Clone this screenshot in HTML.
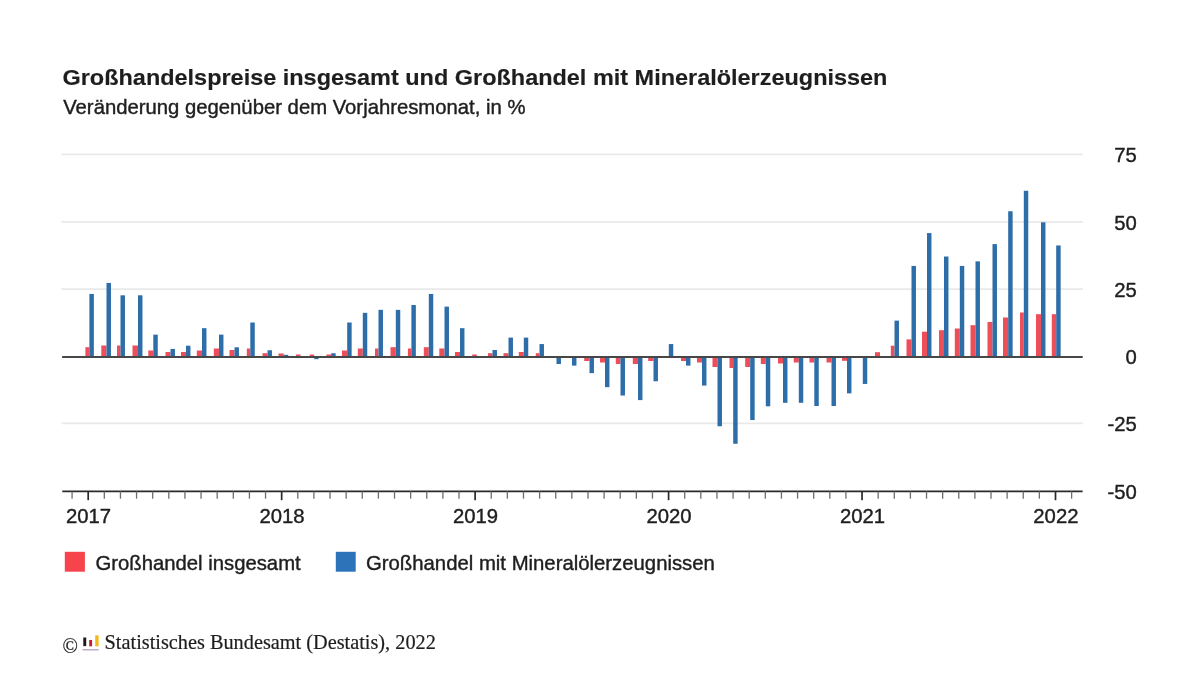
<!DOCTYPE html>
<html lang="de"><head><meta charset="utf-8"><title>Großhandelspreise</title>
<style>html,body{margin:0;padding:0;background:#fff}svg{display:block}text{font-family:"Liberation Sans",Arial,Helvetica,sans-serif;fill:#1e1e1e;stroke:#1e1e1e;stroke-width:.4px}.b{stroke-width:.15px}.s{stroke-width:.2px}.s{font-family:"Liberation Serif","Times New Roman",Times,serif}</style></head><body>
<svg width="1200" height="675" viewBox="0 0 1200 675">
<rect width="1200" height="675" fill="#fff"/>
<g transform="translate(62.5,85.2) scale(1.029,1)"><text class="b" x="0" y="0" font-size="22.8" font-weight="bold">Großhandelspreise insgesamt und Großhandel mit Mineralölerzeugnissen</text></g>
<text x="63.2" y="114.4" font-size="20.3">Veränderung gegenüber dem Vorjahresmonat, in %</text>
<line x1="61.5" x2="1083" y1="154.40" y2="154.40" stroke="#e9e9e9" stroke-width="1.8"/>
<line x1="61.5" x2="1083" y1="221.90" y2="221.90" stroke="#e9e9e9" stroke-width="1.8"/>
<line x1="61.5" x2="1083" y1="289.10" y2="289.10" stroke="#e9e9e9" stroke-width="1.8"/>
<line x1="61.5" x2="1083" y1="423.40" y2="423.40" stroke="#e9e9e9" stroke-width="1.8"/>
<g fill="#ec4e5a">
<rect x="85.40" y="347.20" width="4.00" height="9.80"/>
<rect x="101.30" y="345.50" width="5.20" height="11.50"/>
<rect x="117.00" y="345.50" width="3.50" height="11.50"/>
<rect x="132.50" y="345.50" width="5.50" height="11.50"/>
<rect x="148.30" y="350.50" width="5.00" height="6.50"/>
<rect x="165.50" y="352.00" width="5.00" height="5.00"/>
<rect x="181.00" y="352.00" width="5.00" height="5.00"/>
<rect x="196.80" y="350.50" width="5.20" height="6.50"/>
<rect x="213.80" y="348.50" width="5.20" height="8.50"/>
<rect x="229.50" y="350.00" width="5.00" height="7.00"/>
<rect x="246.80" y="348.50" width="3.50" height="8.50"/>
<rect x="262.50" y="353.20" width="5.00" height="3.80"/>
<rect x="278.50" y="353.50" width="5.30" height="3.50"/>
<rect x="296.00" y="354.50" width="4.50" height="2.50"/>
<rect x="309.70" y="354.50" width="4.50" height="2.50"/>
<rect x="326.40" y="354.50" width="4.80" height="2.50"/>
<rect x="342.00" y="350.50" width="5.20" height="6.50"/>
<rect x="357.80" y="348.50" width="5.00" height="8.50"/>
<rect x="375.00" y="348.50" width="3.50" height="8.50"/>
<rect x="390.50" y="347.20" width="5.30" height="9.80"/>
<rect x="407.90" y="348.50" width="3.50" height="8.50"/>
<rect x="423.80" y="347.20" width="5.00" height="9.80"/>
<rect x="439.30" y="348.50" width="5.20" height="8.50"/>
<rect x="455.00" y="352.00" width="5.00" height="5.00"/>
<rect x="472.20" y="354.50" width="4.60" height="2.50"/>
<rect x="488.00" y="353.20" width="4.50" height="3.80"/>
<rect x="503.50" y="353.20" width="5.00" height="3.80"/>
<rect x="518.80" y="352.00" width="5.00" height="5.00"/>
<rect x="535.80" y="353.20" width="3.70" height="3.80"/>
<rect x="552.00" y="356.40" width="4.50" height="0.60"/>
<rect x="584.20" y="357.00" width="5.30" height="4.00"/>
<rect x="600.00" y="357.00" width="5.00" height="5.50"/>
<rect x="615.80" y="357.00" width="4.70" height="7.00"/>
<rect x="632.80" y="357.00" width="5.20" height="7.00"/>
<rect x="648.20" y="357.00" width="5.30" height="4.00"/>
<rect x="681.00" y="357.00" width="5.00" height="4.00"/>
<rect x="697.00" y="357.00" width="5.00" height="5.50"/>
<rect x="712.50" y="357.00" width="5.00" height="10.00"/>
<rect x="729.50" y="357.00" width="3.70" height="11.00"/>
<rect x="745.20" y="357.00" width="5.00" height="10.00"/>
<rect x="760.80" y="357.00" width="5.00" height="7.00"/>
<rect x="778.00" y="357.00" width="5.00" height="6.50"/>
<rect x="793.70" y="357.00" width="5.10" height="5.50"/>
<rect x="809.50" y="357.00" width="4.80" height="5.50"/>
<rect x="826.50" y="357.00" width="5.00" height="5.50"/>
<rect x="842.00" y="357.00" width="5.00" height="3.80"/>
<rect x="875.00" y="352.20" width="5.00" height="4.80"/>
<rect x="890.80" y="345.70" width="3.70" height="11.30"/>
<rect x="906.50" y="339.40" width="5.00" height="17.60"/>
<rect x="922.00" y="331.70" width="5.00" height="25.30"/>
<rect x="939.00" y="330.20" width="5.00" height="26.80"/>
<rect x="954.80" y="328.50" width="5.00" height="28.50"/>
<rect x="970.50" y="325.20" width="5.00" height="31.80"/>
<rect x="987.50" y="322.00" width="5.00" height="35.00"/>
<rect x="1003.00" y="317.50" width="5.20" height="39.50"/>
<rect x="1020.00" y="312.50" width="3.80" height="44.50"/>
<rect x="1036.00" y="314.20" width="5.00" height="42.80"/>
<rect x="1051.80" y="314.20" width="4.40" height="42.80"/>
</g>
<g fill="#2d6da8">
<rect x="89.40" y="293.96" width="4.45" height="63.04"/>
<rect x="106.50" y="282.92" width="4.45" height="74.08"/>
<rect x="120.50" y="295.31" width="4.45" height="61.69"/>
<rect x="138.00" y="295.31" width="4.45" height="61.69"/>
<rect x="153.30" y="334.64" width="4.45" height="22.36"/>
<rect x="170.50" y="348.92" width="4.45" height="8.08"/>
<rect x="186.00" y="345.69" width="4.45" height="11.31"/>
<rect x="202.00" y="328.17" width="4.45" height="28.83"/>
<rect x="219.00" y="334.64" width="4.45" height="22.36"/>
<rect x="234.50" y="347.30" width="4.45" height="9.70"/>
<rect x="250.30" y="322.52" width="4.45" height="34.48"/>
<rect x="267.50" y="350.26" width="4.45" height="6.73"/>
<rect x="283.80" y="354.84" width="4.45" height="2.16"/>
<rect x="314.20" y="357.00" width="4.45" height="2.16"/>
<rect x="331.20" y="353.23" width="4.45" height="3.77"/>
<rect x="347.20" y="322.52" width="4.45" height="34.48"/>
<rect x="362.80" y="312.82" width="4.45" height="44.18"/>
<rect x="378.50" y="309.86" width="4.45" height="47.14"/>
<rect x="395.80" y="309.86" width="4.45" height="47.14"/>
<rect x="411.40" y="305.01" width="4.45" height="51.99"/>
<rect x="428.80" y="293.96" width="4.45" height="63.04"/>
<rect x="444.50" y="306.62" width="4.45" height="50.38"/>
<rect x="460.00" y="328.17" width="4.45" height="28.83"/>
<rect x="492.50" y="350.00" width="4.45" height="7.00"/>
<rect x="508.50" y="337.60" width="4.45" height="19.40"/>
<rect x="523.80" y="337.60" width="4.45" height="19.40"/>
<rect x="539.50" y="344.07" width="4.45" height="12.93"/>
<rect x="556.50" y="357.00" width="4.45" height="7.00"/>
<rect x="572.00" y="357.00" width="4.45" height="8.62"/>
<rect x="589.50" y="357.00" width="4.45" height="16.16"/>
<rect x="605.00" y="357.00" width="4.45" height="30.17"/>
<rect x="620.50" y="357.00" width="4.45" height="38.52"/>
<rect x="638.00" y="357.00" width="4.45" height="43.10"/>
<rect x="653.50" y="357.00" width="4.45" height="24.25"/>
<rect x="668.80" y="344.07" width="4.45" height="12.93"/>
<rect x="686.00" y="357.00" width="4.45" height="8.62"/>
<rect x="702.00" y="357.00" width="4.45" height="28.56"/>
<rect x="717.50" y="357.00" width="4.45" height="69.24"/>
<rect x="733.20" y="357.00" width="4.45" height="86.75"/>
<rect x="750.20" y="357.00" width="4.45" height="63.04"/>
<rect x="765.80" y="357.00" width="4.45" height="49.30"/>
<rect x="783.00" y="357.00" width="4.45" height="45.80"/>
<rect x="798.80" y="357.00" width="4.45" height="45.80"/>
<rect x="814.30" y="357.00" width="4.45" height="49.03"/>
<rect x="831.50" y="357.00" width="4.45" height="49.03"/>
<rect x="847.00" y="357.00" width="4.45" height="36.37"/>
<rect x="862.80" y="357.00" width="4.45" height="26.94"/>
<rect x="894.50" y="320.63" width="4.45" height="36.37"/>
<rect x="911.50" y="265.94" width="4.45" height="91.06"/>
<rect x="927.00" y="233.08" width="4.45" height="123.92"/>
<rect x="944.00" y="256.51" width="4.45" height="100.49"/>
<rect x="959.80" y="265.94" width="4.45" height="91.06"/>
<rect x="975.50" y="261.36" width="4.45" height="95.64"/>
<rect x="992.50" y="244.12" width="4.45" height="112.88"/>
<rect x="1008.20" y="211.25" width="4.45" height="145.75"/>
<rect x="1023.80" y="190.78" width="4.45" height="166.22"/>
<rect x="1041.00" y="222.30" width="4.45" height="134.70"/>
<rect x="1056.20" y="245.47" width="4.45" height="111.53"/>
</g>
<line x1="62.1" x2="1082.7" y1="357.00" y2="357.00" stroke="#474747" stroke-width="2.1"/>
<line x1="62.3" x2="1082.6" y1="491.40" y2="491.40" stroke="#2a2a2a" stroke-width="1.9"/>
<line x1="72.08" x2="72.08" y1="491.40" y2="498.70" stroke="#6e6e6e" stroke-width="1.3"/>
<line x1="88.20" x2="88.20" y1="491.40" y2="500.20" stroke="#2a2a2a" stroke-width="1.7"/>
<text x="88.60" y="523.4" font-size="20.3" text-anchor="middle">2017</text>
<line x1="104.32" x2="104.32" y1="491.40" y2="498.70" stroke="#6e6e6e" stroke-width="1.3"/>
<line x1="120.44" x2="120.44" y1="491.40" y2="498.70" stroke="#6e6e6e" stroke-width="1.3"/>
<line x1="136.56" x2="136.56" y1="491.40" y2="498.70" stroke="#6e6e6e" stroke-width="1.3"/>
<line x1="152.69" x2="152.69" y1="491.40" y2="498.70" stroke="#6e6e6e" stroke-width="1.3"/>
<line x1="168.81" x2="168.81" y1="491.40" y2="498.70" stroke="#6e6e6e" stroke-width="1.3"/>
<line x1="184.93" x2="184.93" y1="491.40" y2="498.70" stroke="#6e6e6e" stroke-width="1.3"/>
<line x1="201.05" x2="201.05" y1="491.40" y2="498.70" stroke="#6e6e6e" stroke-width="1.3"/>
<line x1="217.17" x2="217.17" y1="491.40" y2="498.70" stroke="#6e6e6e" stroke-width="1.3"/>
<line x1="233.30" x2="233.30" y1="491.40" y2="498.70" stroke="#6e6e6e" stroke-width="1.3"/>
<line x1="249.42" x2="249.42" y1="491.40" y2="498.70" stroke="#6e6e6e" stroke-width="1.3"/>
<line x1="265.54" x2="265.54" y1="491.40" y2="498.70" stroke="#6e6e6e" stroke-width="1.3"/>
<line x1="281.66" x2="281.66" y1="491.40" y2="500.20" stroke="#2a2a2a" stroke-width="1.7"/>
<text x="282.06" y="523.4" font-size="20.3" text-anchor="middle">2018</text>
<line x1="297.78" x2="297.78" y1="491.40" y2="498.70" stroke="#6e6e6e" stroke-width="1.3"/>
<line x1="313.90" x2="313.90" y1="491.40" y2="498.70" stroke="#6e6e6e" stroke-width="1.3"/>
<line x1="330.02" x2="330.02" y1="491.40" y2="498.70" stroke="#6e6e6e" stroke-width="1.3"/>
<line x1="346.15" x2="346.15" y1="491.40" y2="498.70" stroke="#6e6e6e" stroke-width="1.3"/>
<line x1="362.27" x2="362.27" y1="491.40" y2="498.70" stroke="#6e6e6e" stroke-width="1.3"/>
<line x1="378.39" x2="378.39" y1="491.40" y2="498.70" stroke="#6e6e6e" stroke-width="1.3"/>
<line x1="394.51" x2="394.51" y1="491.40" y2="498.70" stroke="#6e6e6e" stroke-width="1.3"/>
<line x1="410.63" x2="410.63" y1="491.40" y2="498.70" stroke="#6e6e6e" stroke-width="1.3"/>
<line x1="426.75" x2="426.75" y1="491.40" y2="498.70" stroke="#6e6e6e" stroke-width="1.3"/>
<line x1="442.88" x2="442.88" y1="491.40" y2="498.70" stroke="#6e6e6e" stroke-width="1.3"/>
<line x1="459.00" x2="459.00" y1="491.40" y2="498.70" stroke="#6e6e6e" stroke-width="1.3"/>
<line x1="475.12" x2="475.12" y1="491.40" y2="500.20" stroke="#2a2a2a" stroke-width="1.7"/>
<text x="475.52" y="523.4" font-size="20.3" text-anchor="middle">2019</text>
<line x1="491.24" x2="491.24" y1="491.40" y2="498.70" stroke="#6e6e6e" stroke-width="1.3"/>
<line x1="507.36" x2="507.36" y1="491.40" y2="498.70" stroke="#6e6e6e" stroke-width="1.3"/>
<line x1="523.49" x2="523.49" y1="491.40" y2="498.70" stroke="#6e6e6e" stroke-width="1.3"/>
<line x1="539.61" x2="539.61" y1="491.40" y2="498.70" stroke="#6e6e6e" stroke-width="1.3"/>
<line x1="555.73" x2="555.73" y1="491.40" y2="498.70" stroke="#6e6e6e" stroke-width="1.3"/>
<line x1="571.85" x2="571.85" y1="491.40" y2="498.70" stroke="#6e6e6e" stroke-width="1.3"/>
<line x1="587.97" x2="587.97" y1="491.40" y2="498.70" stroke="#6e6e6e" stroke-width="1.3"/>
<line x1="604.09" x2="604.09" y1="491.40" y2="498.70" stroke="#6e6e6e" stroke-width="1.3"/>
<line x1="620.22" x2="620.22" y1="491.40" y2="498.70" stroke="#6e6e6e" stroke-width="1.3"/>
<line x1="636.34" x2="636.34" y1="491.40" y2="498.70" stroke="#6e6e6e" stroke-width="1.3"/>
<line x1="652.46" x2="652.46" y1="491.40" y2="498.70" stroke="#6e6e6e" stroke-width="1.3"/>
<line x1="668.58" x2="668.58" y1="491.40" y2="500.20" stroke="#2a2a2a" stroke-width="1.7"/>
<text x="668.98" y="523.4" font-size="20.3" text-anchor="middle">2020</text>
<line x1="684.70" x2="684.70" y1="491.40" y2="498.70" stroke="#6e6e6e" stroke-width="1.3"/>
<line x1="700.82" x2="700.82" y1="491.40" y2="498.70" stroke="#6e6e6e" stroke-width="1.3"/>
<line x1="716.95" x2="716.95" y1="491.40" y2="498.70" stroke="#6e6e6e" stroke-width="1.3"/>
<line x1="733.07" x2="733.07" y1="491.40" y2="498.70" stroke="#6e6e6e" stroke-width="1.3"/>
<line x1="749.19" x2="749.19" y1="491.40" y2="498.70" stroke="#6e6e6e" stroke-width="1.3"/>
<line x1="765.31" x2="765.31" y1="491.40" y2="498.70" stroke="#6e6e6e" stroke-width="1.3"/>
<line x1="781.43" x2="781.43" y1="491.40" y2="498.70" stroke="#6e6e6e" stroke-width="1.3"/>
<line x1="797.55" x2="797.55" y1="491.40" y2="498.70" stroke="#6e6e6e" stroke-width="1.3"/>
<line x1="813.68" x2="813.68" y1="491.40" y2="498.70" stroke="#6e6e6e" stroke-width="1.3"/>
<line x1="829.80" x2="829.80" y1="491.40" y2="498.70" stroke="#6e6e6e" stroke-width="1.3"/>
<line x1="845.92" x2="845.92" y1="491.40" y2="498.70" stroke="#6e6e6e" stroke-width="1.3"/>
<line x1="862.04" x2="862.04" y1="491.40" y2="500.20" stroke="#2a2a2a" stroke-width="1.7"/>
<text x="862.44" y="523.4" font-size="20.3" text-anchor="middle">2021</text>
<line x1="878.16" x2="878.16" y1="491.40" y2="498.70" stroke="#6e6e6e" stroke-width="1.3"/>
<line x1="894.28" x2="894.28" y1="491.40" y2="498.70" stroke="#6e6e6e" stroke-width="1.3"/>
<line x1="910.40" x2="910.40" y1="491.40" y2="498.70" stroke="#6e6e6e" stroke-width="1.3"/>
<line x1="926.53" x2="926.53" y1="491.40" y2="498.70" stroke="#6e6e6e" stroke-width="1.3"/>
<line x1="942.65" x2="942.65" y1="491.40" y2="498.70" stroke="#6e6e6e" stroke-width="1.3"/>
<line x1="958.77" x2="958.77" y1="491.40" y2="498.70" stroke="#6e6e6e" stroke-width="1.3"/>
<line x1="974.89" x2="974.89" y1="491.40" y2="498.70" stroke="#6e6e6e" stroke-width="1.3"/>
<line x1="991.01" x2="991.01" y1="491.40" y2="498.70" stroke="#6e6e6e" stroke-width="1.3"/>
<line x1="1007.13" x2="1007.13" y1="491.40" y2="498.70" stroke="#6e6e6e" stroke-width="1.3"/>
<line x1="1023.26" x2="1023.26" y1="491.40" y2="498.70" stroke="#6e6e6e" stroke-width="1.3"/>
<line x1="1039.38" x2="1039.38" y1="491.40" y2="498.70" stroke="#6e6e6e" stroke-width="1.3"/>
<line x1="1055.50" x2="1055.50" y1="491.40" y2="500.20" stroke="#2a2a2a" stroke-width="1.7"/>
<text x="1055.90" y="523.4" font-size="20.3" text-anchor="middle">2022</text>
<line x1="1071.62" x2="1071.62" y1="491.40" y2="498.70" stroke="#6e6e6e" stroke-width="1.3"/>
<text x="1136.9" y="162.10" font-size="20.3" text-anchor="end">75</text>
<text x="1136.9" y="229.60" font-size="20.3" text-anchor="end">50</text>
<text x="1136.9" y="296.80" font-size="20.3" text-anchor="end">25</text>
<text x="1136.9" y="364.10" font-size="20.3" text-anchor="end">0</text>
<text x="1136.9" y="431.10" font-size="20.3" text-anchor="end">-25</text>
<text x="1136.9" y="499.10" font-size="20.3" text-anchor="end">-50</text>
<rect x="64.8" y="551.8" width="20.1" height="19.9" fill="#f7434c"/>
<text x="95.5" y="569.8" font-size="20.3">Großhandel insgesamt</text>
<rect x="335.8" y="551.8" width="19.9" height="19.9" fill="#2d73b9"/>
<g transform="translate(366.0,569.8) scale(1.0015,1)"><text x="0" y="0" font-size="20.3">Großhandel mit Mineralölerzeugnissen</text></g>
<text class="s" x="62.4" y="653.2" font-size="20.3">©</text>
<rect x="83.3" y="637.5" width="2.9" height="8.6" fill="#1a1a1a"/>
<rect x="89.2" y="640" width="2.9" height="6.3" fill="#c4202a"/>
<rect x="95.2" y="635.3" width="3.4" height="11" fill="#f2b91e"/>
<rect x="82.5" y="649" width="16.2" height="1.5" fill="#b9aecb"/>
<text class="s" x="104.6" y="649" font-size="20.3">Statistisches Bundesamt (Destatis), 2022</text>
</svg></body></html>
